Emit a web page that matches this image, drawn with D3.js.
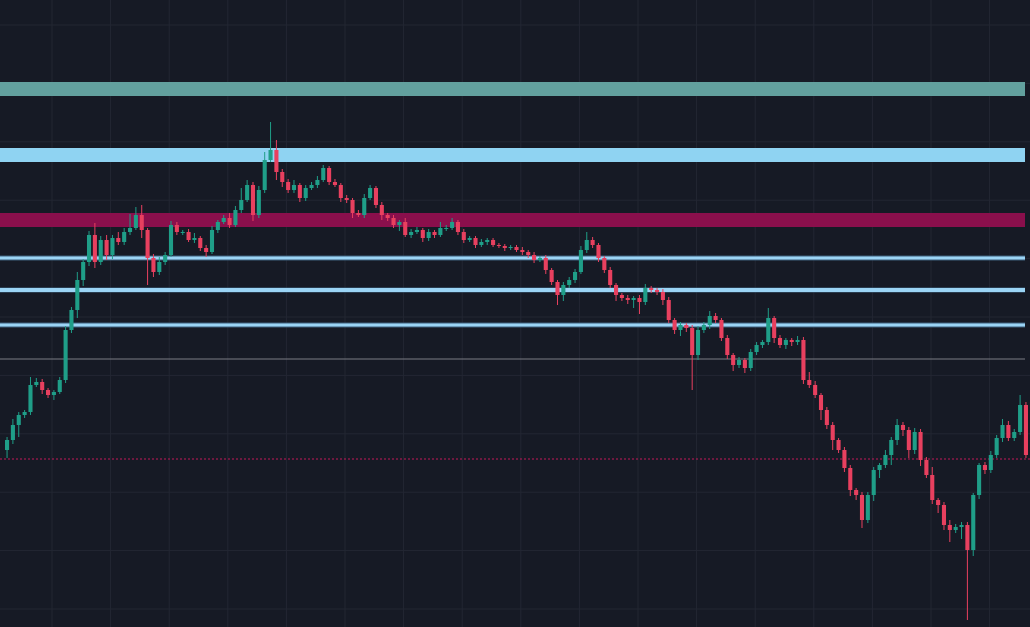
<!DOCTYPE html>
<html>
<head>
<meta charset="utf-8">
<script src="https://cdn.jsdelivr.net/npm/d3@7"></script>
<style>
  html, body { margin: 0; padding: 0; background: #161a25; overflow: hidden; }
</style>
</head>
<body>
<script>
// price points, one candle per bar; open = previous close
var firstOpen = 177;
var closes = [187,202,212,215,242,245,237,232,235,247,297,317,347,365,392,365,387,372,389,385,
  395,399,412,397,369,355,365,372,402,395,395,387,389,379,375,397,405,409,402,417,
  427,442,412,437,467,477,455,445,437,442,429,439,442,447,459,445,442,429,427,414,
  412,429,439,422,412,409,402,405,392,395,397,389,395,392,399,399,405,395,387,389,
  382,385,387,382,381,379,380,377,375,372,367,369,357,345,332,342,347,355,377,387,
  382,369,357,342,332,329,327,329,325,339,337,335,327,307,297,302,299,272,297,302,
  311,307,289,272,262,267,259,275,282,285,309,289,282,287,285,287,247,242,232,217,
  202,187,177,159,137,132,107,132,157,162,172,187,202,197,177,195,167,152,127,122,
  102,97,100,102,77,132,162,157,172,189,202,189,195,222,172];
var wickUp = [3,6,3,2,8,4,3,2,2,3,4,3,8,3,4,12,4,5,3,6,4,14,8,10,2,4,5,3,4,3,
  2,3,5,2,3,4,2,3,5,4,12,5,3,4,8,28,10,3,3,5,2,3,3,4,3,2,3,2,3,2,
  3,4,3,2,3,2,3,2,4,3,3,2,3,2,6,3,4,2,3,2,2,3,2,2,2,2,2,2,3,2,
  3,2,3,2,2,3,3,3,4,8,3,2,2,3,2,2,3,2,3,4,2,2,3,3,2,3,2,3,4,3,
  5,3,2,3,2,3,2,3,3,2,10,2,3,2,2,4,3,8,4,2,3,3,2,3,3,2,3,3,3,2,
  5,3,6,3,3,4,3,3,8,2,3,5,3,3,3,2,2,3,4,3,6,4,3,10,3];
var wickDn = [8,4,12,3,3,2,4,3,5,2,3,3,8,6,4,6,3,5,4,3,3,3,2,8,27,5,3,3,2,3,
  3,2,3,3,5,2,3,2,3,2,3,2,6,3,3,2,8,5,3,3,4,3,2,3,2,3,2,4,3,5,
  2,3,2,3,5,3,3,6,2,3,2,4,3,3,2,3,2,3,3,2,3,2,3,2,2,3,2,2,3,3,
  3,2,4,3,10,6,3,3,2,3,3,4,3,3,6,3,4,8,12,3,3,3,5,3,4,6,4,35,5,3,
  4,3,3,4,6,3,5,3,3,3,3,5,3,4,4,3,4,3,3,10,4,10,3,4,6,5,8,3,6,8,
  3,10,5,6,8,4,6,3,4,8,5,12,3,12,70,6,4,4,3,3,4,3,3,3,3];
// horizontal levels
var bandLevels = [{p: 538, c: "#62a09e"}, {p: 472, c: "#8fd3f2"}, {p: 407, c: "#8a0f4c"}];
var thinLevels = [369, 337, 302];
var greyLevel = 268;
var lastLevel = 168;

var W = 1030, H = 627;
var svg = d3.select("body").append("svg").attr("width", W).attr("height", H);

var x = d3.scaleBand().domain(d3.range(closes.length)).range([5, 1028]).paddingInner(0.3);
var y = d3.scaleLinear().domain([0, 627]).range([627, 0]);

// grid
var g = svg.append("g").attr("stroke", "#232733").attr("stroke-width", 1);
d3.range(-6.6, W, 58.6).forEach(function (gx) {
  g.append("line").attr("x1", gx).attr("x2", gx).attr("y1", 0).attr("y2", H);
});
d3.range(25, H, 58.4).forEach(function (gy) {
  g.append("line").attr("x1", 0).attr("x2", W).attr("y1", gy).attr("y2", gy);
});

var lineEnd = 1025;
bandLevels.forEach(function (b) {
  svg.append("rect").attr("x", 0).attr("width", lineEnd).attr("y", y(b.p) - 7).attr("height", 14).attr("fill", b.c);
});
thinLevels.forEach(function (p, i) {
  svg.append("rect").attr("x", 0).attr("width", lineEnd).attr("y", y(p) - 2.5).attr("height", 5).attr("fill", "#3c5f7a");
  svg.append("rect").attr("x", 0).attr("width", lineEnd).attr("y", y(p) - (i == 1 ? 2 : 1.5)).attr("height", i == 1 ? 4 : 3).attr("fill", "#9bd4f5");
});
svg.append("line").attr("x1", 0).attr("x2", lineEnd).attr("y1", y(greyLevel)).attr("y2", y(greyLevel))
  .attr("stroke", "#7a7d85").attr("stroke-width", 1);
svg.append("line").attr("x1", 0).attr("x2", W).attr("y1", y(lastLevel)).attr("y2", y(lastLevel))
  .attr("stroke", "#c2185b").attr("stroke-width", 1).attr("stroke-dasharray", "2,2");

// candles
var data = closes.map(function (c, i) {
  var o = i == 0 ? firstOpen : closes[i - 1];
  return {i: i, o: o, c: c, h: Math.max(o, c) + wickUp[i], l: Math.min(o, c) - wickDn[i]};
});
var up = "#1f9e88", dn = "#e8405f";
var cg = svg.append("g");
var cs = cg.selectAll("g").data(data).enter().append("g");
cs.append("line")
  .attr("x1", function (d) { return x(d.i) + x.bandwidth() / 2; })
  .attr("x2", function (d) { return x(d.i) + x.bandwidth() / 2; })
  .attr("y1", function (d) { return y(d.h); })
  .attr("y2", function (d) { return y(d.l); })
  .attr("stroke", function (d) { return d.c >= d.o ? up : dn; })
  .attr("stroke-width", 1);
cs.append("rect")
  .attr("x", function (d) { return x(d.i); })
  .attr("width", x.bandwidth())
  .attr("y", function (d) { return y(Math.max(d.o, d.c)); })
  .attr("height", function (d) { return Math.max(1, Math.abs(y(d.o) - y(d.c))); })
  .attr("fill", function (d) { return d.c >= d.o ? up : dn; });
</script>
</body>
</html>
